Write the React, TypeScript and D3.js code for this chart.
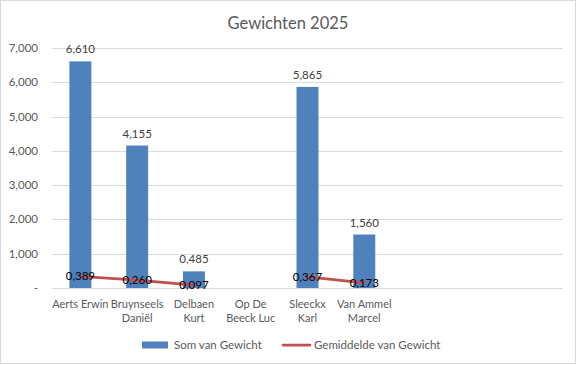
import React from "react";
import * as d3 from "d3";

const categories: string[] = ["Aerts Erwin", "Bruynseels Daniël", "Delbaen Kurt", "Op De Beeck Luc", "Sleeckx Karl", "Van Ammel Marcel", "", "", ""];
const categoryLines: string[][] = [["Aerts Erwin"], ["Bruynseels", "Daniël"], ["Delbaen", "Kurt"], ["Op De", "Beeck Luc"], ["Sleeckx", "Karl"], ["Van Ammel", "Marcel"], [], [], []];
const somVanGewicht: (number | null)[] = [6610, 4155, 485, null, 5865, 1560, null, null, null];
const gemiddeldeVanGewicht: (number | null)[] = [0.389, 0.26, 0.097, null, 0.367, 0.173, null, null, null];
const yTicks: number[] = [0, 1000, 2000, 3000, 4000, 5000, 6000, 7000];
const title = "Gewichten 2025";
const seriesNames = ["Som van Gewicht", "Gemiddelde van Gewicht"];

const W = 577, H = 365;
const plotLeft = 52, plotRight = 563, plotTop = 48, plotBottom = 288;
const FONT = "Lato, 'Open Sans', sans-serif";
const BLUE = "#4F81BD", RED = "#C0504D";

const fmtSum = (v: number) => `${Math.floor(v / 1000)},${String(v % 1000).padStart(3, "0")}`;
const fmtAvg = (v: number) => v.toFixed(3).replace(".", ",");
const fmtTick = (v: number) => (v === 0 ? "-" : d3.format(",")(v));

export default function App() {
  const x = d3.scaleBand<number>().domain(categories.map((_, i) => i)).range([plotLeft, plotRight]);
  const y = d3.scaleLinear().domain([0, 7000]).range([plotBottom, plotTop]);
  const y2 = d3.scaleLinear().domain([0, 8]).range([plotBottom, plotTop]);
  const bw = x.bandwidth() * 0.387;
  const cx = (i: number) => (x(i) as number) + x.bandwidth() / 2;
  const line = d3
    .line<number | null>()
    .defined((d) => d !== null)
    .x((_, i) => cx(i))
    .y((d) => y2(d as number));
  const linePath = line(gemiddeldeVanGewicht) || "";

  return (
    <svg width={W} height={H} style={{ position: "fixed", left: 0, top: 0, background: "#fff" }} fontFamily={FONT}>
      <rect x={0.5} y={0.5} width={575} height={363} fill="#fff" stroke="#d9d9d9" />
      <text x={288} y={29} textAnchor="middle" fontSize={16.5} fill="#595959">{title}</text>
      {yTicks.map((t) => (
        <g key={t}>
          <line x1={plotLeft} x2={plotRight} y1={Math.round(y(t)) + 0.5} y2={Math.round(y(t)) + 0.5} stroke="#d9d9d9" />
          <text x={38} y={y(t) + 4} textAnchor="end" fontSize={11.5} fill="#595959">{fmtTick(t)}</text>
        </g>
      ))}
      {somVanGewicht.map((v, i) =>
        v === null ? null : (
          <g key={"b" + i}>
            <rect x={cx(i) - bw / 2} y={y(v)} width={bw} height={plotBottom - y(v)} fill={BLUE} />
            <text x={cx(i)} y={y(v) - 8} textAnchor="middle" fontSize={11.5} fill="#404040">{fmtSum(v)}</text>
          </g>
        )
      )}
      <path d={linePath} fill="none" stroke={RED} strokeWidth={2.75} strokeLinecap="round" strokeLinejoin="round" />
      {gemiddeldeVanGewicht.map((v, i) =>
        v === null ? null : (
          <text key={"l" + i} x={cx(i)} y={y2(v) + 4} textAnchor="middle" fontSize={11.5} fill="#000">{fmtAvg(v)}</text>
        )
      )}
      {categoryLines.map((lines, i) =>
        lines.map((s, j) => (
          <text key={"c" + i + "-" + j} x={cx(i)} y={308 + j * 14} textAnchor="middle" fontSize={11} fill="#595959">{s}</text>
        ))
      )}
      <rect x={142} y={341.5} width={26} height={7} fill={BLUE} />
      <text x={174} y={349} fontSize={11.5} fill="#595959">{seriesNames[0]}</text>
      <line x1={283} x2={310} y1={345} y2={345} stroke={RED} strokeWidth={2.75} strokeLinecap="round" />
      <text x={314} y={349} fontSize={11.5} fill="#595959">{seriesNames[1]}</text>
    </svg>
  );
}
